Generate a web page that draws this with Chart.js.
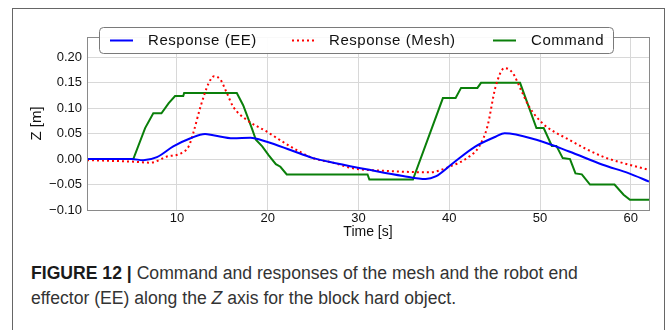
<!DOCTYPE html>
<html>
<head>
<meta charset="utf-8">
<script src="https://cdn.jsdelivr.net/npm/chart.js@4.4.1/dist/chart.umd.min.js"></script>
<style>
  html, body { margin: 0; padding: 0; background: #fff; width: 672px; height: 330px; overflow: hidden; }
  #frame { position: absolute; left: 12px; top: 8px; width: 653px; height: 340px; border: 1.5px solid #666; box-sizing: border-box; }
  #c { position: absolute; left: 0; top: 0; }
  #cap { position: absolute; left: 31px; top: 261px; width: 630px; font-family: "Liberation Sans", Arial, sans-serif; font-size: 17.6px; line-height: 25px; color: #333; }
  #cap b { color: #1a1a1a; }
</style>
</head>
<body>
<div id="frame"></div>
<canvas id="c" width="672" height="250"></canvas>
<div id="cap"><b>FIGURE 12 |</b> Command and responses of the mesh and the robot end<br>effector (EE) along the <i>Z</i> axis for the block hard object.</div>
<script>
// ---- data ----
const seriesNames = ["Response (EE)", "Response (Mesh)", "Command"];
const xTicks = [10, 20, 30, 40, 50, 60];
const yTicks = [-0.10, -0.05, 0.00, 0.05, 0.10, 0.15, 0.20];

const tEE  = [0.1, 5.0, 6.3, 7.8, 9.6, 11.5, 13.1, 14.0, 16.2, 18.1, 19.9, 22.5, 25.0, 27.5, 31.2, 34.9, 37.4, 38.5, 40.4, 42.9, 45.1, 46.1, 49.6, 53.2, 56.9, 59.8, 62];
const zEE  = [0, 0, -0.002, 0.004, 0.025, 0.041, 0.0495, 0.047, 0.041, 0.042, 0.034, 0.018, 0.002, -0.008, -0.021, -0.033, -0.039, -0.034, -0.008, 0.025, 0.044, 0.051, 0.038, 0.015, -0.011, -0.028, -0.044];

const tMesh = [0.1, 5.2, 7.1, 8.9, 10.4, 11.3, 11.8, 12.6, 13.5, 14.1, 14.8, 15.5, 16.2, 17.7, 19.9, 22.5, 25.0, 27.2, 29.4, 33.0, 37.8, 40.0, 42.2, 43.3, 44.2, 45.1, 46.1, 47.0, 47.9, 48.8, 50.3, 53.2, 56.9, 59.8, 62];
const zMesh = [-0.002, -0.005, -0.007, 0.005, 0.011, 0.025, 0.051, 0.103, 0.149, 0.163, 0.156, 0.13, 0.103, 0.077, 0.054, 0.025, 0.002, -0.007, -0.018, -0.023, -0.026, -0.015, 0.005, 0.025, 0.064, 0.142, 0.179, 0.169, 0.136, 0.103, 0.07, 0.038, 0.005, -0.011, -0.021];

const tCmd = [0.1, 5.2, 6.5, 7.4, 8.3, 9.1, 9.8, 10.7, 10.8, 16.6, 17.3, 18.25, 18.7, 19.4, 20.1, 20.9, 21.4, 22.1, 31.0, 31.2, 36.0, 39.3, 40.7, 41.3, 43.1, 43.5, 47.8, 49.6, 50.4, 51.3, 51.8, 52.5, 53.3, 53.9, 54.6, 55.5, 58.2, 59.2, 59.9, 62];
const zCmd = [0, 0, 0.061, 0.09, 0.09, 0.11, 0.124, 0.124, 0.13, 0.13, 0.106, 0.061, 0.038, 0.025, 0.008, -0.01, -0.015, -0.03, -0.03, -0.04, -0.04, 0.12, 0.12, 0.14, 0.14, 0.15, 0.15, 0.061, 0.061, 0.026, 0.026, 0.002, 0.0, -0.028, -0.03, -0.05, -0.05, -0.07, -0.08, -0.08];

const pts = (t, z) => t.map((v, i) => ({ x: v, y: z[i] }));
const FONT = '"Liberation Sans", Arial, sans-serif';

const legendPlugin = {
  id: 'boxLegend',
  afterDraw(chart) {
    const ctx = chart.ctx;
    const ca = chart.chartArea;
    ctx.save();
    // axis frame
    ctx.strokeStyle = '#8a8a8a';
    ctx.lineWidth = 1;
    ctx.strokeRect(Math.round(ca.left) + 0.5, Math.round(ca.top) + 0.5, Math.round(ca.right - ca.left), Math.round(ca.bottom - ca.top));
    // legend box
    const bx = 99.5, by = 27.5, bw = 514, bh = 26, r = 4;
    ctx.beginPath();
    ctx.moveTo(bx + r, by);
    ctx.arcTo(bx + bw, by, bx + bw, by + bh, r);
    ctx.arcTo(bx + bw, by + bh, bx, by + bh, r);
    ctx.arcTo(bx, by + bh, bx, by, r);
    ctx.arcTo(bx, by, bx + bw, by, r);
    ctx.closePath();
    ctx.fillStyle = 'rgba(255,255,255,0.95)';
    ctx.fill();
    ctx.strokeStyle = '#7a7a7a';
    ctx.stroke();
    const entries = [
      { ds: 0, x1: 110, x2: 133, tx: 148 },
      { ds: 1, x1: 292, x2: 314, tx: 329 },
      { ds: 2, x1: 493, x2: 516, tx: 531 }
    ];
    const ly = 40.5;
    ctx.font = '15px ' + FONT;
    if ('letterSpacing' in ctx) ctx.letterSpacing = '0.55px';
    ctx.textBaseline = 'middle';
    ctx.fillStyle = '#111';
    entries.forEach(e => {
      const d = chart.data.datasets[e.ds];
      ctx.beginPath();
      ctx.setLineDash(d.borderDash || []);
      ctx.strokeStyle = d.borderColor;
      ctx.lineWidth = d.borderWidth;
      ctx.moveTo(e.x1, ly);
      ctx.lineTo(e.x2, ly);
      ctx.stroke();
      ctx.setLineDash([]);
      ctx.fillText(d.label, e.tx, ly);
    });
    ctx.restore();
  }
};

new Chart(document.getElementById('c'), {
  type: 'line',
  data: {
    datasets: [
      { label: seriesNames[0], data: pts(tEE, zEE), borderColor: '#0000ff', borderWidth: 2, pointRadius: 0, cubicInterpolationMode: 'monotone', fill: false },
      { label: seriesNames[1], data: pts(tMesh, zMesh), borderColor: '#ff0000', borderWidth: 2, borderDash: [2, 3], pointRadius: 0, cubicInterpolationMode: 'monotone', fill: false },
      { label: seriesNames[2], data: pts(tCmd, zCmd), borderColor: '#0a7f0a', borderWidth: 2, pointRadius: 0, tension: 0, fill: false }
    ]
  },
  options: {
    responsive: false,
    animation: false,
    layout: { padding: { left: 0, right: 23, top: 37, bottom: 0 } },
    plugins: { legend: { display: false }, tooltip: { enabled: false } },
    scales: {
      x: {
        type: 'linear', min: 0.1, max: 62,
        afterFit(s) { s.height = 40; },
        afterBuildTicks(s) { s.ticks = xTicks.map(v => ({ value: v })); },
        grid: { color: '#d8d8d8', borderDash: [1, 2], drawTicks: false },
        border: { display: false },
        ticks: { color: '#111', font: { family: FONT, size: 13 }, padding: 1, maxRotation: 0 },
        title: { display: true, text: 'Time [s]', color: '#111', font: { family: FONT, size: 14 }, padding: { bottom: 9 } }
      },
      y: {
        min: -0.10, max: 0.24,
        afterFit(s) { s.width = 87; },
        afterBuildTicks(s) { s.ticks = yTicks.map(v => ({ value: v })); },
        grid: { color: '#d8d8d8', borderDash: [1, 2], drawTicks: false },
        border: { display: false },
        ticks: { color: '#111', font: { family: FONT, size: 13 }, padding: 5,
          callback: v => (v < 0 ? '\u2212' : '') + Math.abs(v).toFixed(2) },
        title: { display: true, text: 'Z [m]', color: '#111', font: { family: FONT, size: 15 }, padding: { top: 28 } }
      }
    }
  },
  plugins: [legendPlugin]
});
</script>
</body>
</html>
